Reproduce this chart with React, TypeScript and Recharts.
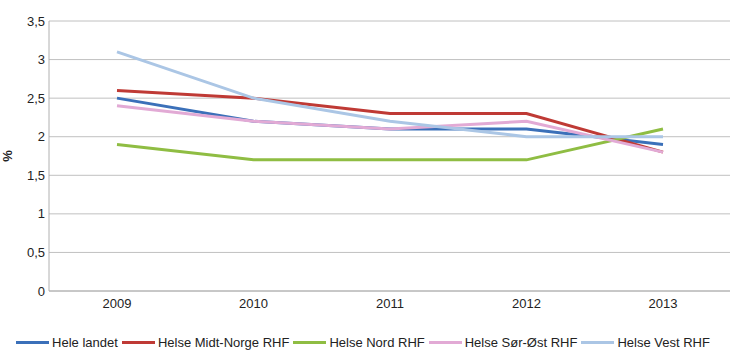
import { LineChart, Line, XAxis, YAxis, CartesianGrid, Legend } from 'recharts';

const years = ['2009', '2010', '2011', '2012', '2013'];
const heleLandet = [2.5, 2.2, 2.1, 2.1, 1.9];
const midtNorge = [2.6, 2.5, 2.3, 2.3, 1.8];
const nord = [1.9, 1.7, 1.7, 1.7, 2.1];
const sorOst = [2.4, 2.2, 2.1, 2.2, 1.8];
const vest = [3.1, 2.5, 2.2, 2.0, 2.0];
const yTicks = [0, 0.5, 1, 1.5, 2, 2.5, 3, 3.5];

const series = [
  { key: 'hele', name: 'Hele landet', values: heleLandet, color: '#3b70b9' },
  { key: 'midt', name: 'Helse Midt-Norge RHF', values: midtNorge, color: '#bf3a35' },
  { key: 'nord', name: 'Helse Nord RHF', values: nord, color: '#8fbd43' },
  { key: 'sorost', name: 'Helse Sør-Øst RHF', values: sorOst, color: '#e2aad5' },
  { key: 'vest', name: 'Helse Vest RHF', values: vest, color: '#abc6e5' },
];

const data = years.map((year, i) => {
  const row: Record<string, string | number> = { year };
  series.forEach((s) => {
    row[s.key] = s.values[i];
  });
  return row;
});

const font = '"Liberation Sans", Arial, sans-serif';
const fmt = (v: number) => String(v).replace('.', ',');

function LegendRow() {
  return (
    <div
      style={{
        display: 'flex',
        justifyContent: 'center',
        alignItems: 'center',
        width: 730,
        height: 16,
        fontFamily: font,
        fontSize: 13,
        color: '#222',
        whiteSpace: 'nowrap',
      }}
    >
      {series.map((s) => (
        <div key={s.key} style={{ display: 'flex', alignItems: 'center', marginRight: 4 }}>
          <span style={{ display: 'inline-block', width: 33, height: 3, background: s.color, marginRight: 3 }} />
          <span>{s.name}</span>
        </div>
      ))}
    </div>
  );
}

export default function App() {
  return (
    <div style={{ position: 'fixed', left: 0, top: 0, width: 730, height: 362, overflow: 'hidden', background: '#fff' }}>
      <LineChart width={732} height={362} data={data} margin={{ top: 21, right: 1, left: 0, bottom: 29 }}>
        <CartesianGrid vertical={false} stroke="#c0c0c0" />
        <XAxis
          dataKey="year"
          padding={{ left: 68, right: 68 }}
          axisLine={{ stroke: '#b0b0b0' }}
          tickLine={false}
          tickSize={0}
          tickMargin={8}
          height={26}
          tick={{ fill: '#222', fontSize: 13, fontFamily: font }}
        />
        <YAxis
          width={49}
          domain={[0, 3.5]}
          ticks={yTicks}
          interval={0}
          tickFormatter={fmt}
          axisLine={{ stroke: '#b0b0b0' }}
          tickLine={false}
          tickSize={0}
          tickMargin={4}
          tick={{ fill: '#222', fontSize: 13, fontFamily: font }}
          label={{
            content: () => (
              <text
                x={12}
                y={156}
                transform="rotate(-90 12 156)"
                textAnchor="middle"
                fontFamily={font}
                fontSize={13}
                fontWeight="bold"
                fill="#222"
              >
                %
              </text>
            ),
          }}
        />
        <Legend content={() => <LegendRow />} wrapperStyle={{ left: 0, top: 334, width: 730, height: 16 }} />
        {series.map((s) => (
          <Line
            key={s.key}
            type="linear"
            dataKey={s.key}
            name={s.name}
            stroke={s.color}
            strokeWidth={3}
            dot={false}
            activeDot={false}
            isAnimationActive={false}
          />
        ))}
      </LineChart>
    </div>
  );
}
